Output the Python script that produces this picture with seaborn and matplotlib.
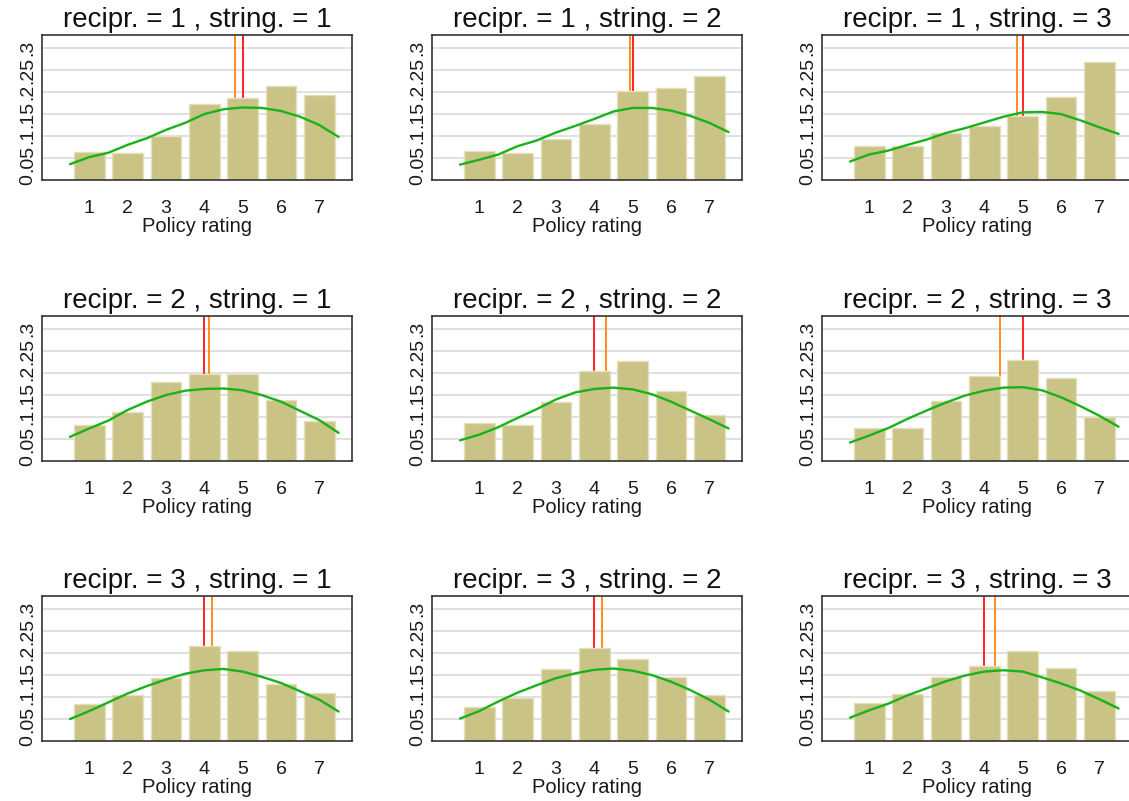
import matplotlib
matplotlib.use("Agg")
import matplotlib.pyplot as plt
import seaborn as sns
import pandas as pd

sns.set_style("white")
plt.rcParams['font.family'] = ['Liberation Sans', 'DejaVu Sans']

# ---- data -------------------------------------------------------------
ratings = [1, 2, 3, 4, 5, 6, 7]
y_ticks = [0, 0.05, 0.1, 0.15, 0.2, 0.25, 0.3]
y_tick_labels = ["0", ".05", ".1", ".15", ".2", ".25", ".3"]
kde_x = [0.5, 1.0, 1.5, 2.0, 2.5, 3.0, 3.5, 4.0, 4.5, 5.0, 5.5, 6.0, 6.5, 7.0, 7.5]

recipr_levels = [1, 2, 3]
string_levels = [1, 2, 3]

# bar heights (fraction) per panel
share_11 = [0.064, 0.061, 0.100, 0.172, 0.186, 0.215, 0.194]
share_12 = [0.066, 0.062, 0.093, 0.127, 0.202, 0.210, 0.236]
share_13 = [0.077, 0.078, 0.107, 0.122, 0.146, 0.188, 0.269]
share_21 = [0.082, 0.111, 0.180, 0.199, 0.199, 0.139, 0.091]
share_22 = [0.087, 0.081, 0.134, 0.205, 0.228, 0.160, 0.104]
share_23 = [0.076, 0.074, 0.137, 0.193, 0.230, 0.190, 0.101]
share_31 = [0.084, 0.105, 0.144, 0.217, 0.205, 0.130, 0.110]
share_32 = [0.078, 0.099, 0.165, 0.212, 0.186, 0.145, 0.105]
share_33 = [0.086, 0.106, 0.145, 0.170, 0.205, 0.166, 0.114]

# kernel density curve values at kde_x per panel
kde_11 = [0.036, 0.052, 0.062, 0.080, 0.095, 0.114, 0.130, 0.150, 0.161, 0.165, 0.164, 0.157, 0.144, 0.125, 0.098]
kde_12 = [0.035, 0.046, 0.058, 0.077, 0.090, 0.108, 0.123, 0.139, 0.156, 0.164, 0.164, 0.158, 0.146, 0.130, 0.109]
kde_13 = [0.042, 0.058, 0.067, 0.080, 0.092, 0.107, 0.118, 0.131, 0.144, 0.154, 0.155, 0.150, 0.136, 0.120, 0.105]
kde_21 = [0.055, 0.074, 0.092, 0.116, 0.135, 0.150, 0.160, 0.164, 0.165, 0.161, 0.150, 0.135, 0.114, 0.093, 0.064]
kde_22 = [0.047, 0.060, 0.077, 0.098, 0.118, 0.140, 0.156, 0.164, 0.167, 0.163, 0.152, 0.135, 0.115, 0.095, 0.074]
kde_23 = [0.042, 0.058, 0.075, 0.096, 0.115, 0.133, 0.149, 0.160, 0.167, 0.168, 0.161, 0.145, 0.125, 0.103, 0.078]
kde_31 = [0.050, 0.068, 0.088, 0.108, 0.125, 0.140, 0.153, 0.161, 0.164, 0.158, 0.146, 0.132, 0.113, 0.094, 0.067]
kde_32 = [0.051, 0.068, 0.090, 0.110, 0.127, 0.143, 0.154, 0.162, 0.165, 0.160, 0.150, 0.135, 0.116, 0.094, 0.067]
kde_33 = [0.053, 0.070, 0.085, 0.104, 0.120, 0.136, 0.149, 0.158, 0.161, 0.158, 0.145, 0.131, 0.115, 0.095, 0.074]

# mean (orange) and median (red) per panel
mean_11, median_11 = 4.80, 5
mean_12, median_12 = 4.92, 5
mean_13, median_13 = 4.86, 5
mean_21, median_21 = 4.11, 4
mean_22, median_22 = 4.31, 4
mean_23, median_23 = 4.41, 5
mean_31, median_31 = 4.20, 4
mean_32, median_32 = 4.20, 4
mean_33, median_33 = 4.28, 4

shares = [[share_11, share_12, share_13], [share_21, share_22, share_23], [share_31, share_32, share_33]]
kdes = [[kde_11, kde_12, kde_13], [kde_21, kde_22, kde_23], [kde_31, kde_32, kde_33]]
means = [[mean_11, mean_12, mean_13], [mean_21, mean_22, mean_23], [mean_31, mean_32, mean_33]]
medians = [[median_11, median_12, median_13], [median_21, median_22, median_23], [median_31, median_32, median_33]]

# ---- styling ----------------------------------------------------------
BAR_FACE = "#C9C386"
BAR_EDGE = "#E4E0BC"
KDE_COLOR = "#19B219"
MEAN_COLOR = "#FF8C1E"
MEDIAN_COLOR = "#FF2424"
GRID_COLOR = "#E0E0E0"
FRAME_COLOR = "#333333"
TEXT_COLOR = "#1A1A1A"

W, H = 1129, 801
fig = plt.figure(figsize=(W / 100, H / 100), dpi=100)

lefts_px = [42, 432, 822]
tops_px = [35, 316, 596]
aw_px, ah_px = 310, 145

for i, rv in enumerate(recipr_levels):
    for j, sv in enumerate(string_levels):
        ax = fig.add_axes([lefts_px[j] / W, 1 - (tops_px[i] + ah_px) / H, aw_px / W, ah_px / H])
        df = pd.DataFrame({"rating": ratings, "share": shares[i][j]})
        kdf = pd.DataFrame({"x": kde_x, "density": kdes[i][j]})

        for yv in y_ticks[1:]:
            ax.axhline(yv, color=GRID_COLOR, lw=1.4, zorder=0.5)
        ax.axvline(medians[i][j], color=MEDIAN_COLOR, lw=1.4, zorder=1)
        ax.axvline(means[i][j], color=MEAN_COLOR, lw=1.4, zorder=1)

        sns.barplot(data=df, x="rating", y="share", native_scale=True, width=0.8,
                    color=BAR_FACE, saturation=1, errorbar=None, ax=ax,
                    edgecolor=BAR_EDGE, linewidth=1.0, zorder=2)
        sns.lineplot(data=kdf, x="x", y="density", color=KDE_COLOR, lw=1.7, ax=ax, zorder=3)

        ax.set_xlim(-0.23, 7.85)
        ax.set_ylim(0, 0.33)
        ax.set_xticks(ratings)
        ax.set_xticklabels([str(r) for r in ratings], fontsize=14, color=TEXT_COLOR)
        ax.set_yticks(y_ticks)
        ax.set_yticklabels(y_tick_labels, fontsize=14, rotation=90, va="center", color=TEXT_COLOR)
        ax.tick_params(axis="x", length=6, width=1, color=FRAME_COLOR, pad=8.5, direction="out")
        ax.tick_params(axis="y", length=3, width=1, color=FRAME_COLOR, pad=1, direction="out")
        ax.set_xlabel("Policy rating", fontsize=14.5, labelpad=0, color=TEXT_COLOR)
        ax.set_ylabel("")
        ax.set_title(f"recipr. = {rv} , string. = {sv}", fontsize=20, pad=6, color="#111111")
        for sp in ax.spines.values():
            sp.set_color(FRAME_COLOR)
            sp.set_linewidth(1.2)
        ax.grid(False)

fig.savefig("out.png", dpi=100)
